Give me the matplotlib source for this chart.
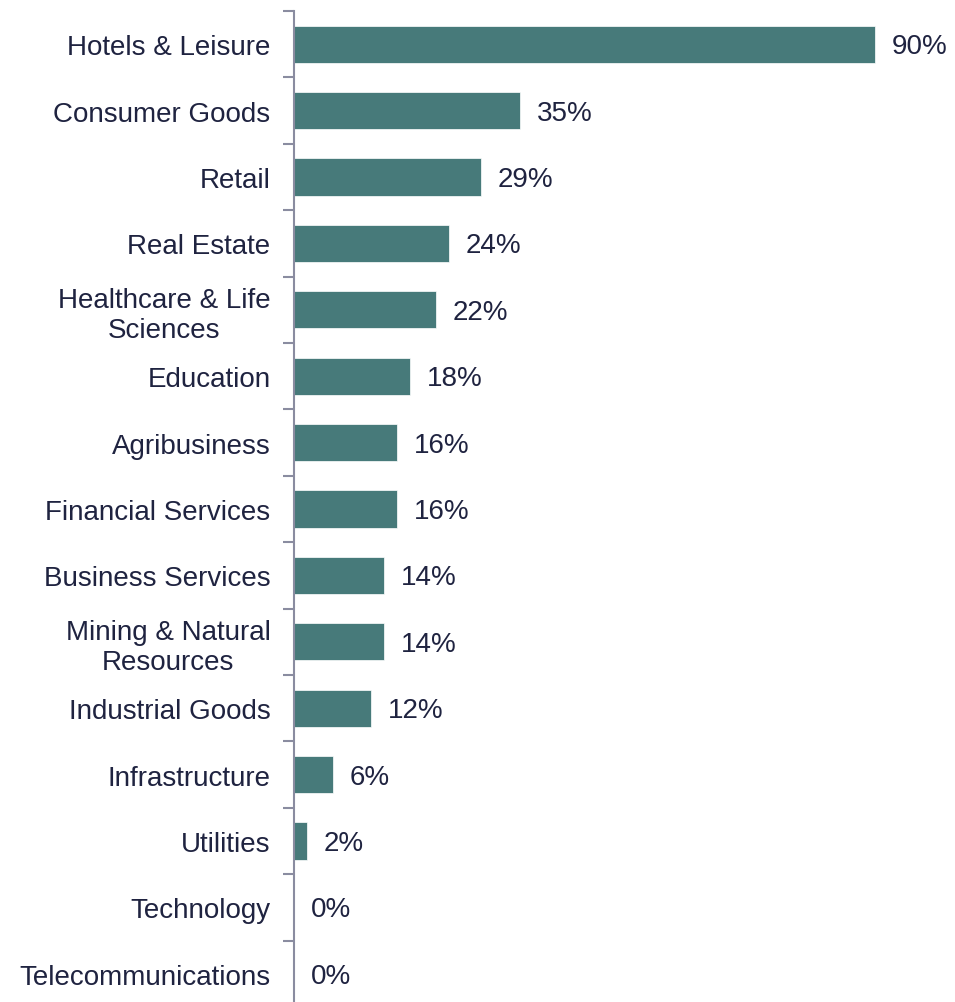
import numpy as np
import matplotlib.pyplot as plt

categories = ['Hotels & Leisure', 'Consumer Goods', 'Retail', 'Real Estate',
              'Healthcare & Life\nSciences', 'Education', 'Agribusiness',
              'Financial Services', 'Business Services', 'Mining & Natural\nResources',
              'Industrial Goods', 'Infrastructure', 'Utilities', 'Technology',
              'Telecommunications']
values = [90, 35, 29, 24, 22, 18, 16, 16, 14, 14, 12, 6, 2, 0, 0]

bar_color = '#477A7A'
text_color = '#1F2340'
axis_color = '#8A8CA0'

plt.rcParams['font.family'] = ['Liberation Sans', 'DejaVu Sans']

fig = plt.figure(figsize=(9.55, 10.03), dpi=100)
ax = fig.add_axes([294 / 955, -5 / 1003, 645 / 955, (1003 - 12 + 5) / 1003])

y = np.arange(len(categories))
ax.barh(y, values, height=0.56, color=bar_color, edgecolor='white', linewidth=0.5)
ax.set_ylim(len(categories) - 0.5, -0.5)
ax.set_xlim(0, 100)

for yi, v in zip(y, values):
    ax.text(v + 2.6, yi + 0.03, f'{v}%', va='center', ha='left', fontsize=20, color=text_color)

ax.set_yticks(y)
ax.set_yticklabels(categories, fontsize=20, color=text_color, multialignment='center',
                   linespacing=1.2)
ax.set_yticks(np.arange(-0.5, len(categories), 1), minor=True)
ax.tick_params(axis='y', which='major', length=0, pad=17)
ax.tick_params(axis='y', which='minor', length=8, width=1.5, color=axis_color)
ax.set_xticks([])

for s in ['top', 'right', 'bottom']:
    ax.spines[s].set_visible(False)
ax.spines['left'].set_color(axis_color)
ax.spines['left'].set_linewidth(1.5)

fig.savefig('out.png', dpi=100)
